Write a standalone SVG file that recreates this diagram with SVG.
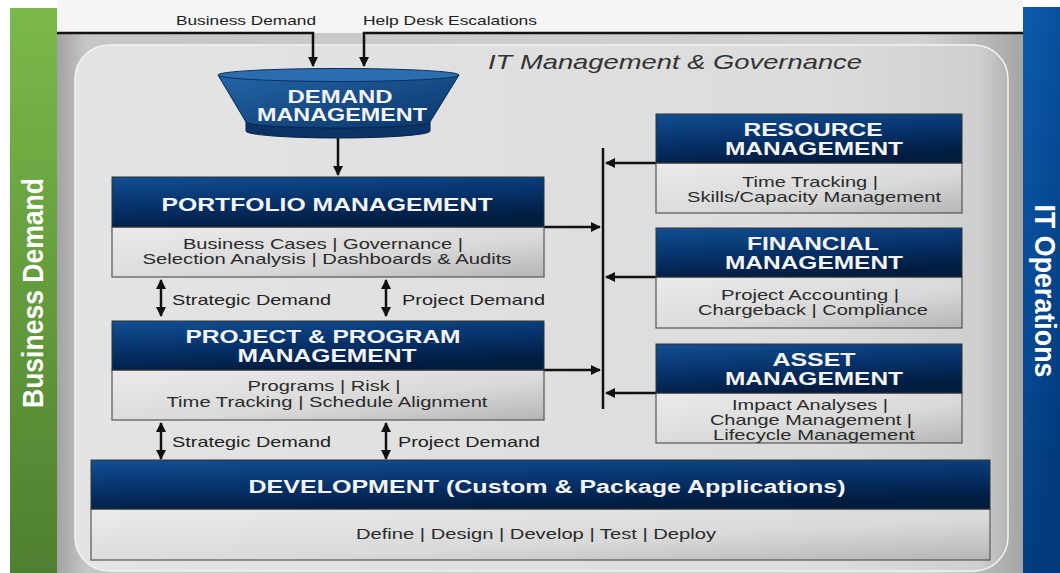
<svg xmlns="http://www.w3.org/2000/svg" width="1060" height="573" viewBox="0 0 1060 573">
<defs>
<linearGradient id="hdr" x1="0" y1="0" x2="0.35" y2="1">
<stop offset="0" stop-color="#124f93"/>
<stop offset="0.55" stop-color="#06326a"/>
<stop offset="1" stop-color="#021c40"/>
</linearGradient>
<linearGradient id="body" x1="0" y1="0" x2="1" y2="1">
<stop offset="0" stop-color="#ebebeb"/>
<stop offset="0.6" stop-color="#d9d9d9"/>
<stop offset="1" stop-color="#b5b5b5"/>
</linearGradient>
<linearGradient id="green" x1="0" y1="0" x2="0" y2="1">
<stop offset="0" stop-color="#7ab94a"/>
<stop offset="1" stop-color="#4f7f30"/>
</linearGradient>
<linearGradient id="blue" x1="0" y1="0" x2="0.4" y2="1">
<stop offset="0" stop-color="#0c5cae"/>
<stop offset="1" stop-color="#023a7c"/>
</linearGradient>
<linearGradient id="band" x1="0" y1="0" x2="1" y2="0">
<stop offset="0" stop-color="#a2a2a2"/>
<stop offset="0.03" stop-color="#c6c6c6"/>
<stop offset="0.9" stop-color="#d2d2d2"/>
<stop offset="1" stop-color="#a6a6a6"/>
</linearGradient>
<linearGradient id="panel" x1="0" y1="0" x2="1" y2="0">
<stop offset="0" stop-color="#e4e4e4"/>
<stop offset="0.8" stop-color="#dcdcdc"/>
<stop offset="0.97" stop-color="#cfcfcf"/>
<stop offset="1" stop-color="#b4b4b4"/>
</linearGradient>
<linearGradient id="funnel" x1="0" y1="0" x2="1" y2="1">
<stop offset="0" stop-color="#2465a8"/>
<stop offset="1" stop-color="#0a3569"/>
</linearGradient>
<marker id="ah" viewBox="0 0 10 10" refX="9" refY="5" markerWidth="4" markerHeight="4" orient="auto-start-reverse" markerUnits="strokeWidth">
<path d="M0,0 L10,5 L0,10 z" fill="#111"/>
</marker>
<style>
.hdr{fill:url(#hdr);stroke:#333;stroke-width:1}
.bdy{fill:url(#body);stroke:#555;stroke-width:1.2}
.ht{font-family:"Liberation Sans",Arial,sans-serif;font-weight:bold;font-size:18px;fill:#f4f4f4;text-anchor:middle}
.bt{font-family:"Liberation Sans",Arial,sans-serif;font-size:15px;fill:#2a2a2a;text-anchor:middle}
.lb{font-family:"Liberation Sans",Arial,sans-serif;font-size:15px;fill:#222}
.tl{font-family:"Liberation Sans",Arial,sans-serif;font-size:13px;fill:#222;text-anchor:middle}
.ln{fill:none;stroke:#111;stroke-width:2.5}
.ar{fill:none;stroke:#111;stroke-width:2.5;marker-end:url(#ah)}
.da{fill:none;stroke:#111;stroke-width:2.5;marker-end:url(#ah);marker-start:url(#ah)}
.side{font-family:"Liberation Sans",Arial,sans-serif;font-weight:bold;font-size:30px;fill:#ffffff;text-anchor:middle}
</style>
</defs>

<rect x="0" y="0" width="1060" height="573" fill="#ffffff"/>
<rect x="57" y="0" width="966" height="33" fill="#f5f5f5"/>
<rect x="57" y="33" width="966" height="540" fill="url(#band)"/>
<rect x="75" y="45" width="933" height="526" rx="34" fill="url(#panel)" stroke="#f4f4f4" stroke-width="1.5"/>

<g id="business-demand-bar">
<rect x="10" y="8" width="47" height="565" fill="url(#green)"/>
<text class="side" transform="translate(43,293) rotate(-90)" textLength="230" lengthAdjust="spacingAndGlyphs">Business Demand</text>
</g>
<g id="it-operations-bar">
<rect x="1023" y="7" width="37" height="566" fill="url(#blue)"/>
<text class="side" transform="translate(1035,291) rotate(90)" font-size="28" textLength="173" lengthAdjust="spacingAndGlyphs">IT Operations</text>
</g>

<text x="488" y="69" font-family="'Liberation Sans',Arial,sans-serif" font-style="italic" font-size="21" fill="#333" textLength="374" lengthAdjust="spacingAndGlyphs">IT Management &amp; Governance</text>

<text class="tl" x="246" y="25" textLength="140" lengthAdjust="spacingAndGlyphs">Business Demand</text>
<text class="tl" x="450" y="25" textLength="174" lengthAdjust="spacingAndGlyphs">Help Desk Escalations</text>

<g id="connectors">
<path class="ar" d="M57,33 H313 V66"/>
<path class="ar" d="M1023,33 H364 V66"/>
<path class="ar" d="M338,138 V175"/>
<path class="ar" d="M544,227 H600"/>
<path class="ar" d="M544,370 H600"/>
<line class="ln" x1="603" y1="148" x2="603" y2="409" stroke-width="3.5"/>
<path class="ar" d="M656,163 H606"/>
<path class="ar" d="M656,277 H606"/>
<path class="ar" d="M656,393 H606"/>
<path class="da" d="M161,280 V316"/>
<path class="da" d="M386,280 V316"/>
<path class="da" d="M161,423 V459"/>
<path class="da" d="M386,423 V459"/>
<text class="lb" x="172" y="305" textLength="159" lengthAdjust="spacingAndGlyphs">Strategic Demand</text>
<text class="lb" x="402" y="305" textLength="143" lengthAdjust="spacingAndGlyphs">Project Demand</text>
<text class="lb" x="172" y="447" textLength="159" lengthAdjust="spacingAndGlyphs">Strategic Demand</text>
<text class="lb" x="398" y="447" textLength="142" lengthAdjust="spacingAndGlyphs">Project Demand</text>
</g>

<g id="demand-management">
<path d="M246,121 V131 A92,7 0 0 0 430,131 V121 Z" fill="#0b3366" stroke="#06234a" stroke-width="1"/>
<path d="M218,75 L246,122 A92,6 0 0 0 430,122 L459,75 Z" fill="url(#funnel)" stroke="#06234a" stroke-width="1"/>
<ellipse cx="338.5" cy="75" rx="120.5" ry="6.5" fill="#2c6db0" stroke="#0a3060" stroke-width="1"/>
<text class="ht" x="340" y="103" font-size="19" textLength="105" lengthAdjust="spacingAndGlyphs">DEMAND</text>
<text class="ht" x="342" y="121" font-size="19" textLength="170" lengthAdjust="spacingAndGlyphs">MANAGEMENT</text>
</g>

<g id="portfolio-management">
<rect class="bdy" x="112" y="227" width="432" height="50"/>
<rect class="hdr" x="112" y="177" width="432" height="50"/>
<text class="ht" x="327" y="211" textLength="331" lengthAdjust="spacingAndGlyphs">PORTFOLIO MANAGEMENT</text>
<text class="bt" x="323" y="249" textLength="280" lengthAdjust="spacingAndGlyphs">Business Cases | Governance |</text>
<text class="bt" x="327" y="264" textLength="369" lengthAdjust="spacingAndGlyphs">Selection Analysis | Dashboards &amp; Audits</text>
</g>

<g id="project-program-management">
<rect class="bdy" x="112" y="370" width="432" height="50"/>
<rect class="hdr" x="112" y="321" width="432" height="49"/>
<text class="ht" x="323" y="343" textLength="275" lengthAdjust="spacingAndGlyphs">PROJECT &amp; PROGRAM</text>
<text class="ht" x="327" y="362" textLength="179" lengthAdjust="spacingAndGlyphs">MANAGEMENT</text>
<text class="bt" x="324" y="391" textLength="153" lengthAdjust="spacingAndGlyphs">Programs | Risk |</text>
<text class="bt" x="327" y="407" textLength="321" lengthAdjust="spacingAndGlyphs">Time Tracking | Schedule Alignment</text>
</g>

<g id="resource-management">
<rect class="bdy" x="656" y="163" width="306" height="50"/>
<rect class="hdr" x="656" y="114" width="306" height="49"/>
<text class="ht" x="813" y="136" textLength="139" lengthAdjust="spacingAndGlyphs">RESOURCE</text>
<text class="ht" x="814" y="155" textLength="178" lengthAdjust="spacingAndGlyphs">MANAGEMENT</text>
<text class="bt" x="810" y="187" textLength="136" lengthAdjust="spacingAndGlyphs">Time Tracking |</text>
<text class="bt" x="814" y="202" textLength="254" lengthAdjust="spacingAndGlyphs">Skills/Capacity Management</text>
</g>

<g id="financial-management">
<rect class="bdy" x="656" y="277" width="306" height="51"/>
<rect class="hdr" x="656" y="228" width="306" height="49"/>
<text class="ht" x="813" y="250" textLength="132" lengthAdjust="spacingAndGlyphs">FINANCIAL</text>
<text class="ht" x="814" y="269" textLength="178" lengthAdjust="spacingAndGlyphs">MANAGEMENT</text>
<text class="bt" x="810" y="300" textLength="178" lengthAdjust="spacingAndGlyphs">Project Accounting |</text>
<text class="bt" x="813" y="315" textLength="230" lengthAdjust="spacingAndGlyphs">Chargeback | Compliance</text>
</g>

<g id="asset-management">
<rect class="bdy" x="656" y="393" width="306" height="50"/>
<rect class="hdr" x="656" y="344" width="306" height="49"/>
<text class="ht" x="814" y="366" textLength="83" lengthAdjust="spacingAndGlyphs">ASSET</text>
<text class="ht" x="814" y="385" textLength="178" lengthAdjust="spacingAndGlyphs">MANAGEMENT</text>
<text class="bt" x="810" y="410" textLength="156" lengthAdjust="spacingAndGlyphs">Impact Analyses |</text>
<text class="bt" x="811" y="425" textLength="202" lengthAdjust="spacingAndGlyphs">Change Management |</text>
<text class="bt" x="814" y="440" textLength="202" lengthAdjust="spacingAndGlyphs">Lifecycle Management</text>
</g>

<g id="development">
<rect class="bdy" x="91" y="509" width="899" height="51"/>
<rect class="hdr" x="91" y="460" width="899" height="49"/>
<text class="ht" x="547" y="493" textLength="597" lengthAdjust="spacingAndGlyphs">DEVELOPMENT (Custom &amp; Package Applications)</text>
<text class="bt" x="536" y="539" textLength="360" lengthAdjust="spacingAndGlyphs">Define | Design | Develop | Test | Deploy</text>
</g>
</svg>
